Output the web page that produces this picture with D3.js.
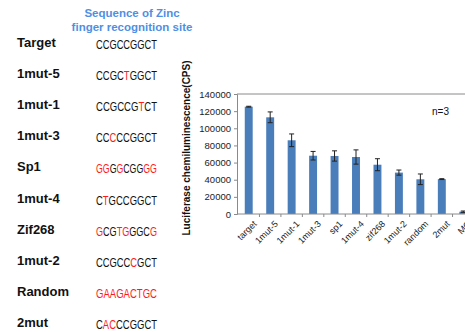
<!DOCTYPE html>
<html><head><meta charset="utf-8">
<script src="https://cdn.jsdelivr.net/npm/d3@7"></script>
<style>body{margin:0;background:#fff;}svg{display:block;}</style>
</head><body>
<script>
const rowLabels = ["Target","1mut-5","1mut-1","1mut-3","Sp1","1mut-4","Zif268","1mut-2","Random","2mut"];
const sequences = ["CCGCCGGCT","CCGCTGGCT","CCGCCGTCT","CCCCCGGCT","GGGGCGGGG","CTGCCGGCT","GCGTGGGCG","CCGCCCGCT","GAAGACTGC","CACCCGGCT"];
const redPositions = [[],[4],[6],[2],[0,1,3,7,8],[1],[0,3,4,8],[5],[0,1,2,3,4,5,6,7,8],[1,2]];
const categories = ["target","1mut-5","1mut-1","1mut-3","sp1","1mut-4","zif268","1mut-2","random","2mut","MO"];
const values = [125200,112800,86000,68000,67700,66500,57500,48300,40500,40700,2700];
const errors = [500,6300,7400,5000,6000,8300,7000,3000,6200,500,800];
const yTicks = [0,20000,40000,60000,80000,100000,120000,140000];

const W=465,H=332;
const svg=d3.select("body").append("svg").attr("width",W).attr("height",H);
const FONT = "Arial, 'Liberation Sans', sans-serif";

// header
const hdr = svg.append("g").attr("font-family",FONT).attr("font-weight","bold").attr("font-size",11.5).attr("fill","#4F8FE3").attr("text-anchor","middle");
hdr.append("text").attr("x",132).attr("y",17).text("Sequence of Zinc");
hdr.append("text").attr("x",132).attr("y",31).text("finger recognition site");

// rows
const rowY = d3.scalePoint().domain(d3.range(rowLabels.length)).range([47,327]);
const rows = svg.append("g");
rowLabels.forEach((lab,i)=>{
  rows.append("text").attr("x",17).attr("y",rowY(i)).attr("font-family",FONT)
    .attr("font-weight","bold").attr("font-size",13).attr("fill","#111").text(lab);
  const t = rows.append("text").attr("transform",`translate(96,${rowY(i)+2})`).attr("font-family",FONT)
    .attr("font-size",12);
  sequences[i].split("").forEach((ch,j)=>{
    t.append("tspan").attr("fill", redPositions[i].includes(j) ? "#FF1A1A" : "#111").text(ch);
  });
  const w = t.node().getComputedTextLength();
  t.attr("transform",`translate(96,${rowY(i)+2}) scale(${61/w},1)`);
});

// chart
const x0=237, plotRight=W;
const x = d3.scaleBand().domain(categories).range([238,474]).paddingInner(0.63).paddingOuter(0.315);
const y = d3.scaleLinear().domain([0,140000]).range([214,94]);
const g = svg.append("g");

// top gridline
g.append("line").attr("x1",x0).attr("x2",plotRight).attr("y1",y(140000)).attr("y2",y(140000)).attr("stroke","#8a8a8a").attr("stroke-width",1);

// y axis
const yAxis = d3.axisLeft(y).tickValues(yTicks).tickSize(3).tickPadding(3).tickFormat(d3.format("d"));
const ya = g.append("g").attr("transform",`translate(${x0},0)`).call(yAxis);
ya.select(".domain").attr("stroke","#8a8a8a");
ya.selectAll(".tick line").attr("stroke","#8a8a8a");
ya.selectAll("text").attr("font-family",FONT).attr("font-size",9.5).attr("fill","#222");

// bars
g.selectAll("rect.bar").data(categories).enter().append("rect").attr("class","bar")
  .attr("x",d=>x(d)).attr("width",x.bandwidth())
  .attr("y",(d,i)=>y(values[i])).attr("height",(d,i)=>y(0)-y(values[i]))
  .attr("fill","#4A7EBB");

// error bars
const eb = g.append("g").attr("stroke","#222").attr("stroke-width",1);
categories.forEach((c,i)=>{
  const cx = x(c)+x.bandwidth()/2;
  eb.append("line").attr("x1",cx).attr("x2",cx).attr("y1",y(values[i]+errors[i])).attr("y2",y(values[i]-errors[i]));
  eb.append("line").attr("x1",cx-2.5).attr("x2",cx+2.5).attr("y1",y(values[i]+errors[i])).attr("y2",y(values[i]+errors[i]));
  eb.append("line").attr("x1",cx-2.5).attr("x2",cx+2.5).attr("y1",y(values[i]-errors[i])).attr("y2",y(values[i]-errors[i]));
});

// x axis
g.append("line").attr("x1",x0).attr("x2",plotRight).attr("y1",y(0)).attr("y2",y(0)).attr("stroke","#8a8a8a");
const step = x.step();
categories.forEach((c,i)=>{
  const bx = x(c)+x.bandwidth()/2 + step/2;
  g.append("line").attr("x1",bx).attr("x2",bx).attr("y1",y(0)).attr("y2",y(0)+3).attr("stroke","#8a8a8a");
});
g.selectAll("text.xl").data(categories).enter().append("text").attr("class","xl")
  .attr("transform",d=>`translate(${x(d)+x.bandwidth()/2+4},${y(0)+6}) rotate(-45)`)
  .attr("text-anchor","end").attr("dy","0.7em")
  .attr("font-family",FONT).attr("font-size",9).attr("fill","#222").text(d=>d);

// y title
svg.append("text").attr("transform","translate(190,148) rotate(-90)").attr("text-anchor","middle")
  .attr("font-family",FONT).attr("font-weight","bold").attr("font-size",10).attr("fill","#111")
  .text("Luciferase chemiluminescence(CPS)");

// n=3
svg.append("text").attr("x",432).attr("y",115).attr("font-family",FONT).attr("font-size",10).attr("fill","#111").text("n=3");
</script>
</body></html>
